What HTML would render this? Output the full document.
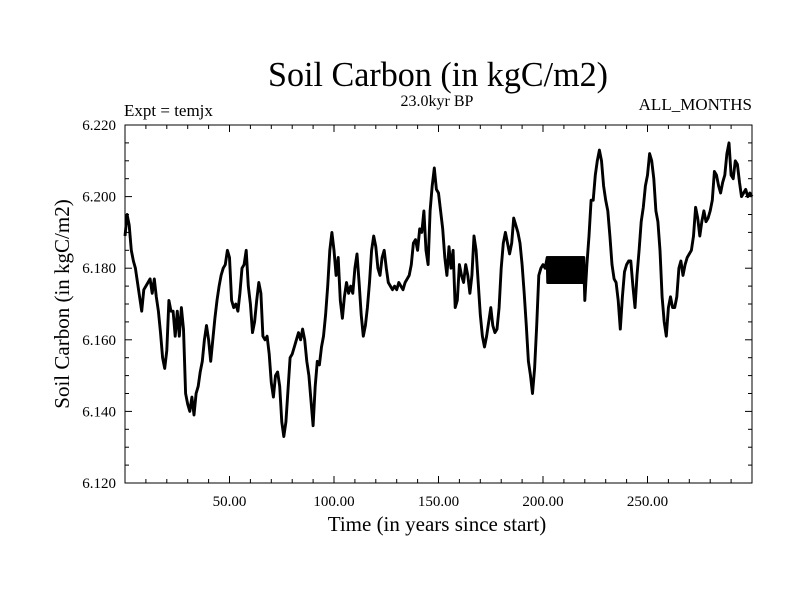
<!DOCTYPE html>
<html><head><meta charset="utf-8"><style>
body{margin:0;background:#fff}
svg{display:block;font-family:"Liberation Serif",serif}
</style></head><body>
<svg id="chart" width="800" height="600">
<text x="438" y="86" font-size="35" text-anchor="middle" textLength="340" lengthAdjust="spacingAndGlyphs">Soil Carbon (in kgC/m2)</text>
<text x="437" y="106" font-size="16" text-anchor="middle">23.0kyr BP</text>
<text x="124" y="116" font-size="17">Expt = temjx</text>
<text x="752" y="110" font-size="17" text-anchor="end">ALL_MONTHS</text>
<text x="437" y="531" font-size="21" text-anchor="middle">Time (in years since start)</text>
<text x="0" y="0" font-size="21" text-anchor="middle" transform="translate(69,304) rotate(-90)">Soil Carbon (in kgC/m2)</text>
<g id="axes"></g>
<path id="line" fill="none" stroke="#000" stroke-width="2.9" stroke-linejoin="round"></path>
<rect x="125" y="125" width="627" height="358" fill="none" stroke="#000" stroke-width="1"></rect>
</svg>
<script>
const yTicks=[6.12,6.14,6.16,6.18,6.20,6.22];
const yTickLabels=["6.120","6.140","6.160","6.180","6.200","6.220"];
const xTicks=[50,100,150,200,250];
const xTickLabels=["50.00","100.00","150.00","200.00","250.00"];
const valuesA=[6.189,6.195,6.192,6.185,6.182,6.180,6.176,6.172,6.168,6.174,6.175,6.176,6.177,6.173,6.177,6.172,6.168,6.162,6.155,6.152,6.157,6.171,6.168,6.168,6.161,6.168,6.161,6.169,6.163,6.145,6.142,6.140,6.144,6.139,6.145,6.147,6.151,6.154,6.160,6.164,6.160,6.154,6.160,6.166,6.171,6.175,6.178,6.180,6.181,6.185,6.183,6.171,6.169,6.170,6.168,6.173,6.180,6.181,6.185,6.175,6.170,6.162,6.165,6.171,6.176,6.173,6.161,6.160,6.161,6.156,6.148,6.144,6.150,6.151,6.147,6.137,6.133,6.137,6.146,6.155,6.156,6.158,6.160,6.162,6.160,6.163,6.160,6.154,6.150,6.143,6.136,6.147,6.154,6.153,6.158,6.161,6.167,6.175,6.185,6.190];
const valuesB=[6.185,6.178,6.183,6.171,6.166,6.172,6.176,6.173,6.175,6.173,6.180,6.184,6.176,6.167,6.161,6.164,6.169,6.176,6.185,6.189,6.186,6.180,6.178,6.183,6.185,6.180,6.176,6.175,6.174,6.175,6.174,6.176,6.175,6.174,6.176,6.177,6.178,6.181,6.187,6.188,6.185,6.191,6.190,6.196,6.185,6.181,6.196,6.203,6.208,6.202,6.201,6.196,6.191,6.183,6.178,6.186,6.180,6.185,6.169,6.171,6.181,6.178,6.176,6.181,6.178,6.173,6.178,6.189,6.185,6.176,6.167,6.161,6.158,6.161,6.165,6.169,6.164,6.162,6.163,6.169,6.180,6.187,6.190,6.187,6.184,6.187,6.194,6.192,6.190,6.187,6.181,6.173,6.164,6.154,6.150,6.145,6.152,6.164,6.178,6.180];
const valuesC1=[6.181,6.180];
const blockValues=[6.183,6.176,6.183,6.176,6.183,6.176,6.183,6.176,6.183,6.176,6.183,6.176,6.183,6.176,6.183,6.176,6.183,6.176,6.183,6.176,6.183,6.176,6.183,6.176,6.183,6.176,6.183,6.176,6.183,6.176,6.183,6.176,6.183,6.176,6.183,6.176,6.183,6.176,6.183,6.176,6.183,6.176,6.183,6.176,6.183,6.176,6.183,6.176,6.183,6.176,6.183,6.176,6.183,6.176,6.183,6.176,6.183,6.176,6.183,6.176,6.183,6.176,6.183,6.176,6.183,6.176,6.183,6.176,6.183,6.176,6.183,6.176];
const valuesC2=[6.171,6.181,6.189,6.199,6.199,6.206,6.210,6.213,6.210,6.203,6.199,6.196,6.189,6.181,6.177,6.176,6.171,6.163,6.172,6.179,6.181,6.182,6.182,6.175,6.169,6.178,6.185,6.193,6.197,6.203,6.206,6.212,6.210,6.205,6.196,6.193,6.185,6.172,6.165,6.161,6.169,6.172,6.169,6.169,6.172,6.180,6.182,6.178,6.181,6.183,6.184,6.185,6.189,6.197,6.194,6.189,6.193,6.196,6.193,6.194,6.196,6.199,6.207,6.206,6.203,6.201,6.204,6.206,6.212,6.215,6.206,6.205,6.210,6.209,6.204,6.200,6.201,6.202,6.200,6.201,6.200];
const X0=125,X1=752,Y0=483,Y1=125;
function xs(t){return X0+(t-0)/(300-0)*(X1-X0);}
function ys(v){return Y0-(v-6.12)/(6.22-6.12)*(Y0-Y1);}
const pts=[];
valuesA.concat(valuesB,valuesC1).forEach((v,i)=>pts.push([i,v]));
blockValues.forEach((v,i)=>pts.push([202+i*0.25,v]));
valuesC2.forEach((v,i)=>pts.push([220+i,v]));
const NS="http://www.w3.org/2000/svg";
const ax=document.getElementById('axes');
function mk(tag,attrs){const e=document.createElementNS(NS,tag);for(const k in attrs)e.setAttribute(k,attrs[k]);ax.appendChild(e);return e;}
for(let t=10;t<300;t+=10){
  const maj=t%50===0,L=maj?7:4;
  let e=mk('line',{x1:xs(t),x2:xs(t),y1:Y0,y2:Y0-L,stroke:'#000'});
  
  
  e=mk('line',{x1:xs(t),x2:xs(t),y1:Y1,y2:Y1+L,stroke:'#000'});
  
  
}
for(let k=1;k<20;k++){
  const v=6.12+k*0.005,maj=k%4===0,L=maj?7:4;
  let e=mk('line',{x1:X0,x2:X0+L,y1:ys(v),y2:ys(v),stroke:'#000'});
  
  
  e=mk('line',{x1:X1,x2:X1-L,y1:ys(v),y2:ys(v),stroke:'#000'});
  
  
}
yTicks.forEach((v,i)=>{
  const e=mk('text',{x:116,y:ys(v)+5,'font-size':15,'text-anchor':'end'});
  e.textContent=yTickLabels[i];
  
  
});
xTicks.forEach((t,i)=>{
  const e=mk('text',{x:xs(t),y:506,'font-size':15,'text-anchor':'middle'});
  e.textContent=xTickLabels[i];
  
  
});
document.getElementById('line').setAttribute('d',pts.map((p,i)=>(i?'L':'M')+xs(p[0]).toFixed(1)+','+ys(p[1]).toFixed(1)).join(''));
</script>
</body></html>
